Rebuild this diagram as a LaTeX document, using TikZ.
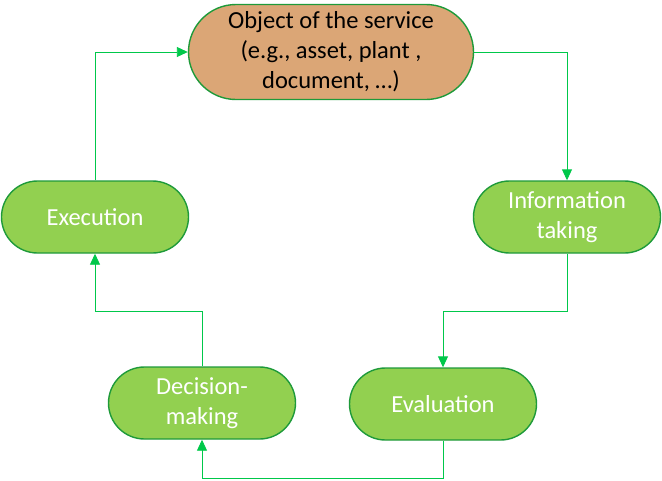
\documentclass[tikz,border=0pt]{standalone}
\usepackage{fontspec}
\setmainfont{Carlito}
\usetikzlibrary{arrows.meta,shapes.misc,calc}
\definecolor{stepgreen}{HTML}{92D050}
\definecolor{edgegreen}{HTML}{1E9A3A}
\definecolor{linkgreen}{HTML}{00C84A}
\definecolor{objtan}{HTML}{DBA676}

\tikzset{
  stage/.style={rounded rectangle, draw=edgegreen, line width=1.4pt, fill=stepgreen,
    text=white, align=center, font=\fontsize{24.5}{30}\selectfont,
    minimum width=187pt, minimum height=72pt, inner sep=0pt},
  link/.style={draw=linkgreen, line width=0.9pt, -{Triangle[length=11pt,width=10pt]}}
}

\begin{document}
\begin{tikzpicture}[x=1pt,y=-1pt]
				\useasboundingbox (0,0) rectangle (662,480);
				
				\node[stage, fill=objtan, text=black, minimum width=285pt, minimum height=95pt] (obj) at (331,52) {Object of the service\\(e.g., asset, plant ,\\document, \dots)};
				\node[stage] (info) at (567,217) {Information\\taking};
				\node[stage] (eval) at (443,404) {Evaluation};
				\node[stage] (dec) at (202,403) {Decision-\\making};
				\node[stage] (exec) at (95,217) {Execution};
				
				\coordinate (bendA) at (567,311);
				\coordinate (bendB) at (443,478);
				\coordinate (bendC) at (202,311);
				
				\draw[link] (exec.north) |- (obj.west);
				\draw[link] (obj.east) -| (info.north);
				\draw[link] (info.south) -- (bendA) -| (eval.north);
				\draw[link] (eval.south) -- (bendB) -| (dec.south);
				\draw[link] (dec.north) -- (bendC) -| (exec.south);
			\end{tikzpicture}
\end{document}
